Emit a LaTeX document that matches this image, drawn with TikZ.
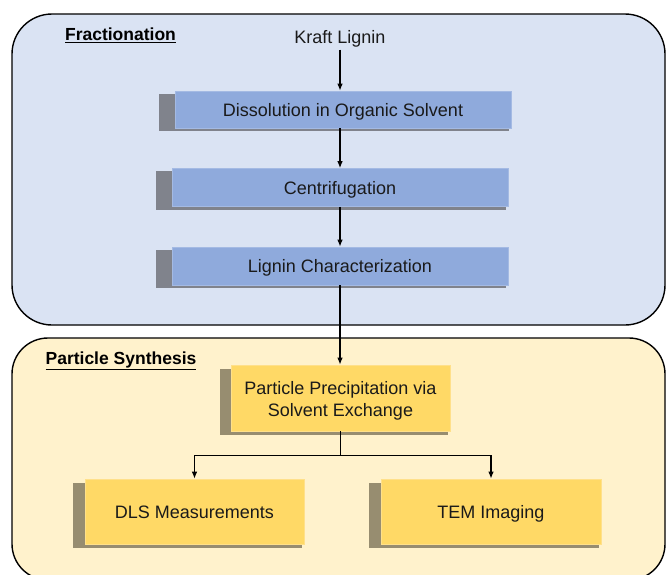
\documentclass[tikz,border=0pt]{standalone}
\usepackage{fontspec}
\setmainfont{Liberation Sans}
\usetikzlibrary{arrows.meta}
\definecolor{topfill}{HTML}{DAE3F3}
\definecolor{botfill}{HTML}{FFF2CC}
\definecolor{bluebox}{HTML}{8FAADC}
\definecolor{blueedge}{HTML}{A4BAE3}
\definecolor{yelbox}{HTML}{FFD966}
\definecolor{yeledge}{HTML}{FFE08A}
\definecolor{blueshadow}{HTML}{80838C}
\definecolor{yelshadow}{HTML}{978D70}
\definecolor{txt}{HTML}{1A1A1A}
\pgfdeclarelayer{bg}
\pgfdeclarelayer{shadowlayer}
\pgfsetlayers{bg,shadowlayer,main}
\tikzset{
  container/.style={draw=black, line width=1.4pt},
  bluestep/.style={rectangle, fill=bluebox, draw=blueedge, line width=0.6pt,
    minimum width=336pt, minimum height=37pt, inner sep=0pt, text=txt,
    text height=13pt, text depth=0pt,
    font=\fontsize{18}{21}\selectfont},
  yelstep/.style={rectangle, fill=yelbox, draw=yeledge, line width=0.6pt,
    inner sep=0pt, text=txt, align=center,
    font=\fontsize{18}{22}\selectfont},
  yelone/.style={yelstep, text height=13pt, text depth=0pt},
  title/.style={font=\fontsize{17.5}{20}\bfseries\selectfont, text=black, inner sep=0pt},
  plain/.style={font=\fontsize{18}{21}\selectfont, text=txt, inner sep=0pt,
    text height=13pt, text depth=0pt},
  flow/.style={-{Latex[length=7pt,width=5.5pt]}, line width=1.2pt, black},
  shade blue/.style={fill=blueshadow},
  shade yel/.style={fill=yelshadow},
}
\newcommand{\boxshadow}[4]{% style, node, left offset, down offset
  \fill[#1] ([xshift=-#3pt,yshift=-#4pt]#2.north west) rectangle ([xshift=-2pt,yshift=-#4pt]#2.south east);}
\begin{document}
\begin{tikzpicture}[x=1pt,y=-1pt]
\useasboundingbox (0,0) rectangle (667,574);
\begin{pgfonlayer}{bg}
\fill[white] (0,0) rectangle (667,574);
\draw[container, fill=topfill, rounded corners=40pt] (12,14) rectangle (665,325);
\draw[container, fill=botfill, rounded corners=36pt] (12,338) rectangle (665,580);
\end{pgfonlayer}
% labels
\node[title] (frac) at (120.5,35) {\underline{Fractionation}};
\node[title] (psyn) at (121,360.5) {\underline{Particle Synthesis}};
\node[plain] (kraft) at (340,37) {Kraft Lignin};
% blue steps
\node[bluestep] (diss) at (343,109.5) {Dissolution in Organic Solvent};
\node[bluestep, minimum height=38pt] (cent) at (340,187.5) {Centrifugation};
\node[bluestep, minimum height=38pt] (lign) at (340,266) {Lignin Characterization};
% yellow steps
\node[yelstep, minimum width=219pt, minimum height=66pt] (part) at (340.5,398)
  {\begin{tabular}{@{}c@{}}\rule{0pt}{21.5pt}Particle Precipitation via\\Solvent Exchange\end{tabular}};
\node[yelone, minimum width=219pt, minimum height=65pt] (dls) at (194.5,511.5) {DLS Measurements};
\node[yelone, minimum width=220pt, minimum height=65pt] (tem) at (491,511.5) {TEM Imaging};
% shadows
\begin{pgfonlayer}{shadowlayer}
\boxshadow{shade blue}{diss}{16}{3}
\boxshadow{shade blue}{cent}{16}{3}
\boxshadow{shade blue}{lign}{16}{3}
\boxshadow{shade yel}{part}{11}{4}
\boxshadow{shade yel}{dls}{12}{4}
\boxshadow{shade yel}{tem}{12}{4}
\end{pgfonlayer}
% connectors
\draw[flow] ([yshift=-6pt]kraft.south) -- (kraft.south |- diss.north);
\draw[flow] (diss.south -| cent.north) -- (cent.north);
\draw[flow] (cent.south) -- (lign.north);
\draw[flow] (lign.south) -- (lign.south |- part.north);
\coordinate (split) at ([yshift=-24pt]part.south);
\draw[flow] (part.south) -- (split) -| (dls.north);
\draw[flow] (split) -| (tem.north);
\end{tikzpicture}
\end{document}
